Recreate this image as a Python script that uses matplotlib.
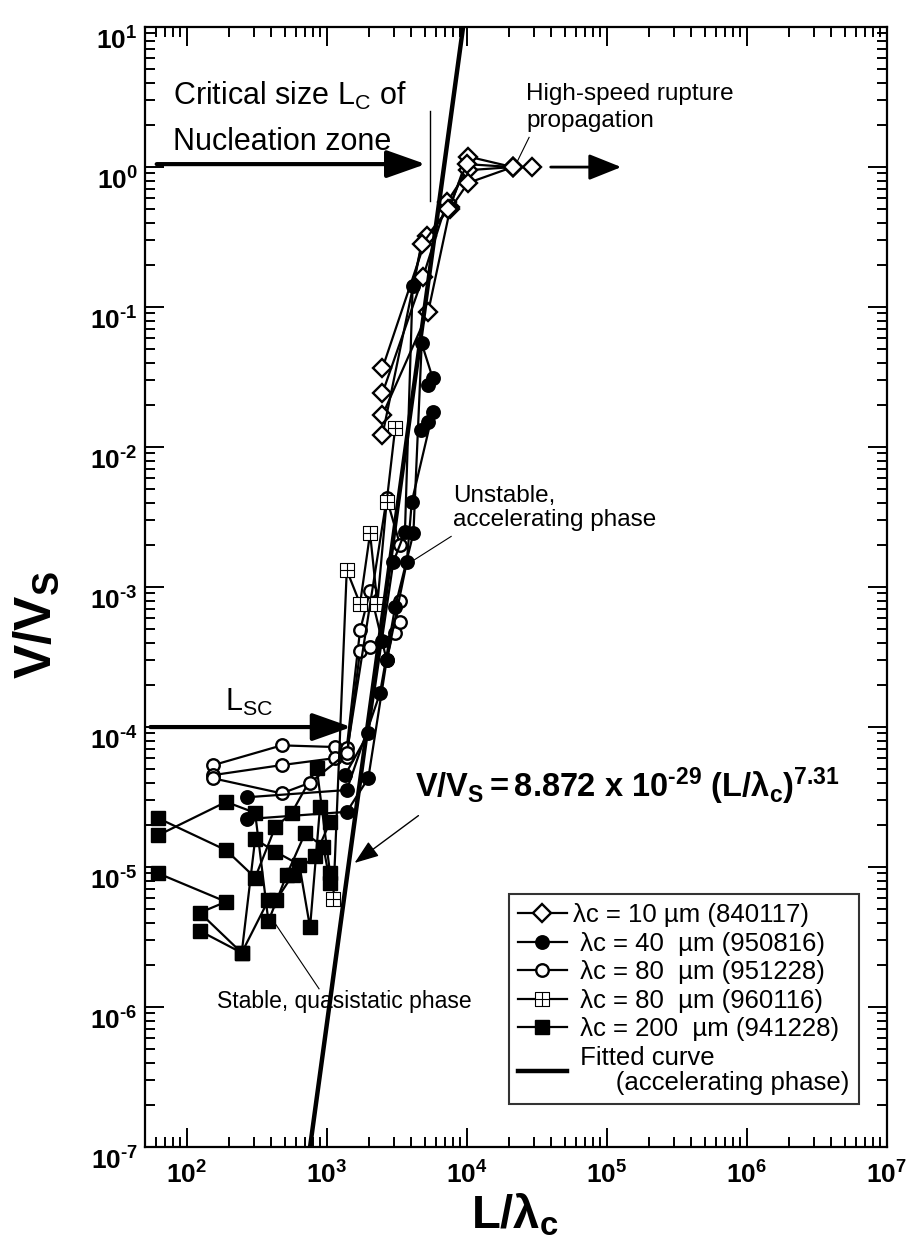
import math
import matplotlib
matplotlib.use("Agg")
import matplotlib.pyplot as plt
from matplotlib.path import Path
from matplotlib.lines import Line2D
from matplotlib.ticker import LogLocator, FuncFormatter, NullFormatter

plt.rcParams['font.family'] = ['Liberation Sans', 'DejaVu Sans']
plt.rcParams['mathtext.fontset'] = 'custom'
plt.rcParams['mathtext.rm'] = 'Liberation Sans'
plt.rcParams['mathtext.it'] = 'Liberation Sans:italic'
plt.rcParams['mathtext.bf'] = 'Liberation Sans:bold'

HY = u"\u2010"   # short hyphen, the figure uses it instead of a minus

# ---- data (L/lambda_c, V/Vs), one list per run ----
LC10_X = [[2500, 5180, 7600, 10200, 21300, 29100],
          [2500, 4870, 7200, 10200, 21300],
          [2500, 5300, 7600, 10200, 21300],
          [2500, 4770, 7400, 10000, 21300]]
LC10_Y = [[0.0366, 0.32, 0.52, 1.19, 1.0, 1.0],
          [0.0243, 0.164, 0.56, 0.95, 1.0],
          [0.0169, 0.092, 0.50, 0.77, 1.0],
          [0.0122, 0.28, 0.50, 1.05, 1.0]]

LC40_X = [[1350, 1980, 2470, 2990, 3620, 4110, 4770],
          [268, 1390, 2400, 3080, 4160, 4770, 5720, 5300],
          [268, 1390, 1980, 2680, 3730, 4050, 5740, 5300, 4690]]
LC40_Y = [[4.54e-5, 9.0e-5, 4.1e-4, 1.51e-3, 2.48e-3, 0.141, 0.285],
          [3.15e-5, 3.55e-5, 1.74e-4, 7.2e-4, 2.42e-3, 0.055, 0.031, 0.0277],
          [2.2e-5, 2.48e-5, 4.3e-5, 3.0e-4, 1.5e-3, 4.06e-3, 0.0179, 0.0152, 0.0132]]

LC80A_X = [[155, 477, 1146, 1390, 1730, 2040, 2680, 3340],
           [155, 477, 1146, 1390, 1730, 2040, 3080, 3340],
           [155, 477, 760, 1390, 2680, 3340]]
LC80A_Y = [[5.35e-5, 7.4e-5, 7.2e-5, 7.1e-5, 4.9e-4, 9.4e-4, 3.0e-4, 7.9e-4],
           [4.54e-5, 5.35e-5, 6.0e-5, 6.1e-5, 3.5e-4, 3.75e-4, 4.7e-4, 5.6e-4],
           [4.3e-5, 3.36e-5, 4.0e-5, 6.5e-5, 4.3e-3, 2.0e-3]]

LC80B_X = [1114, 1390, 1730, 2040, 2300, 2680, 3080]
LC80B_Y = [5.9e-6, 1.32e-3, 7.6e-4, 2.42e-3, 7.6e-4, 4.06e-3, 0.0136]

LC200_X = [[62.7, 191, 308, 428, 562, 849, 1057],
           [62.7, 191, 308, 383, 518, 700, 946, 1057],
           [62.7, 191, 124, 247, 308, 428, 637, 760, 896],
           [124, 247, 383, 435, 572, 824, 1057]]
LC200_Y = [[2.23e-5, 1.32e-5, 8.4e-6, 1.92e-5, 2.44e-5, 5.1e-5, 9.0e-6],
           [1.69e-5, 2.92e-5, 2.44e-5, 4.1e-6, 8.8e-6, 1.74e-5, 1.4e-5, 7.7e-6],
           [9.0e-6, 5.65e-6, 4.72e-6, 2.44e-6, 1.58e-5, 1.29e-5, 1.04e-5, 3.7e-6, 2.7e-5],
           [3.5e-6, 2.44e-6, 5.8e-6, 5.8e-6, 8.8e-6, 1.2e-5, 2.1e-5]]

FIT_X = [760, 9420]
FIT_Y = [1e-7, 1e1]

X_TICKS = [1e2, 1e3, 1e4, 1e5, 1e6, 1e7]
Y_TICKS = [1e-7, 1e-6, 1e-5, 1e-4, 1e-3, 1e-2, 1e-1, 1e0, 1e1]

LABELS = [u"\u03bbc = 10 \u00b5m (840117)",
          u" \u03bbc = 40  \u00b5m (950816)",
          u" \u03bbc = 80  \u00b5m (951228)",
          u" \u03bbc = 80  \u00b5m (960116)",
          u" \u03bbc = 200  \u00b5m (941228)",
          " Fitted curve\n      (accelerating phase)"]

# square with a cross inside
SQPLUS = Path([(-1, -1), (1, -1), (1, 1), (-1, 1), (-1, -1), (0, -1), (0, 1), (-1, 0), (1, 0)],
              [Path.MOVETO, Path.LINETO, Path.LINETO, Path.LINETO, Path.CLOSEPOLY,
               Path.MOVETO, Path.LINETO, Path.MOVETO, Path.LINETO])

STY = [dict(marker="D", ms=9.5, mfc="white", mew=1.7),
       dict(marker="o", ms=9.5, mfc="black", mew=1.2),
       dict(marker="o", ms=9, mfc="white", mew=1.7),
       dict(marker=SQPLUS, ms=9.5, mfc="white", mew=0.8),
       dict(marker="s", ms=10, mfc="black", mew=1.0)]

fig = plt.figure(figsize=(9.06, 12.54), dpi=100)
ax = fig.add_axes([0.1596, 0.0853, 0.8191, 0.8931])
ax.set_xscale("log"); ax.set_yscale("log")
ax.set_xlim(50, 1e7); ax.set_ylim(1e-7, 1e1)

for xs, ys in zip(LC200_X, LC200_Y):
    ax.plot(xs, ys, color="k", lw=1.6, mec="k", **STY[4])
for xs, ys in zip(LC80A_X, LC80A_Y):
    ax.plot(xs, ys, color="k", lw=1.6, mec="k", **STY[2])
ax.plot(LC80B_X, LC80B_Y, color="k", lw=1.6, mec="k", **STY[3])
for xs, ys in zip(LC40_X, LC40_Y):
    ax.plot(xs, ys, color="k", lw=1.6, mec="k", **STY[1])
for xs, ys in zip(LC10_X, LC10_Y):
    ax.plot(xs, ys, color="k", lw=1.6, mec="k", **STY[0])
ax.plot(FIT_X, FIT_Y, color="k", lw=3.2, solid_capstyle="butt")

# axes styling
for s in ax.spines.values():
    s.set_linewidth(1.6)
ax.set_xticks(X_TICKS)
ax.set_yticks(Y_TICKS)
ax.xaxis.set_minor_locator(LogLocator(base=10, subs=range(2, 10), numticks=100))
ax.yaxis.set_minor_locator(LogLocator(base=10, subs=range(2, 10), numticks=100))
ax.xaxis.set_minor_formatter(NullFormatter())
ax.yaxis.set_minor_formatter(NullFormatter())
ax.tick_params(which="both", direction="in", top=True, right=True, width=1.4)
ax.tick_params(which="major", length=13.5, pad=10, labelsize=19)
ax.tick_params(which="minor", length=7.5)
ax.tick_params(axis="y", which="major", pad=5)


def pow10(v, pos):
    e = int(round(math.log10(v)))
    s = str(e).replace("-", HY)
    return r"$\mathbf{10^{%s}}$" % s


ax.xaxis.set_major_formatter(FuncFormatter(pow10))
ax.yaxis.set_major_formatter(FuncFormatter(pow10))

ax.set_xlabel(r"$\mathbf{L/\lambda_c}$", fontsize=34)
ax.xaxis.set_label_coords(0.499, -0.040)
ax.set_ylabel(r"$\mathbf{V/V_S}$", fontsize=37)
ax.yaxis.set_label_coords(-0.112, 0.466)

# annotations
def fx(px):
    return px / 906.0

def fy(py):
    return 1 - py / 1254.0

fig.text(fx(173), fy(105), r"Critical size $\mathrm{L_C}$ of", fontsize=22, va="baseline")
fig.text(fx(173), fy(150), "Nucleation zone", fontsize=22, va="baseline")
fig.text(fx(526), fy(100), "High-speed rupture", fontsize=17.5, va="baseline")
fig.text(fx(526), fy(127), "propagation", fontsize=17.5, va="baseline")
fig.text(fx(453), fy(502), "Unstable,", fontsize=17.5, va="baseline")
fig.text(fx(453), fy(526), "accelerating phase", fontsize=17.5, va="baseline")
fig.text(fx(225), fy(711), r"$\mathrm{L_{SC}}$", fontsize=22, va="baseline")
fig.text(fx(217), fy(1008), "Stable, quasistatic phase", fontsize=16.5, va="baseline")
fig.text(fx(415), fy(797),
         r"$\mathbf{V/V_S = 8.872\ x\ 10^{%s29}\ (L/\lambda_c)^{7.31}}$" % HY,
         fontsize=23.5, va="baseline")

big = dict(arrowstyle="-|>,head_length=2.4,head_width=0.85", lw=3, color="k",
           shrinkA=0, shrinkB=0, mutation_scale=10)
ax.annotate("", xy=(5090, 1.05), xytext=(61, 1.05), arrowprops=big)
ax.annotate("", xy=(1500, 1e-4), xytext=(55, 1e-4), arrowprops=big)
ax.annotate("", xy=(1.27e5, 1.0), xytext=(3.98e4, 1.0),
            arrowprops=dict(arrowstyle="-|>,head_length=2.0,head_width=0.8", lw=2,
                            color="k", shrinkA=0, shrinkB=0, mutation_scale=10))
ax.annotate("", xy=(1581, 1.07e-5), xytext=(4520, 2.33e-5),
            arrowprops=dict(arrowstyle="-|>,head_length=1.5,head_width=0.55", lw=1,
                            color="k", shrinkA=0, shrinkB=0, mutation_scale=10))
ax.plot([5450, 5450], [2.53, 0.57], color="k", lw=1)
ax.plot([27900, 23000], [1.63, 1.10], color="k", lw=0.8)
ax.plot([7740, 4160], [2.3e-3, 1.55e-3], color="k", lw=0.8)
ax.plot([881, 432], [1.35e-6, 3.9e-6], color="k", lw=0.8)

handles = [Line2D([], [], color="k", lw=1.6, mec="k", **STY[i]) for i in range(5)]
handles.append(Line2D([], [], color="k", lw=3.2))
leg = ax.legend(handles, LABELS, loc="upper left", bbox_to_anchor=(0.491, 0.226),
                fontsize=18.5, frameon=True, fancybox=False, edgecolor="k",
                handlelength=1.9, handletextpad=0.25, labelspacing=0.18,
                borderpad=0.35, borderaxespad=0)
leg.get_frame().set_linewidth(1.5)
for t in leg.get_texts():
    t.set_linespacing(1.05)

fig.canvas.draw()
for lab in ax.get_yticklabels():
    lab.set_verticalalignment("top")

fig.savefig("out.png", dpi=100)
